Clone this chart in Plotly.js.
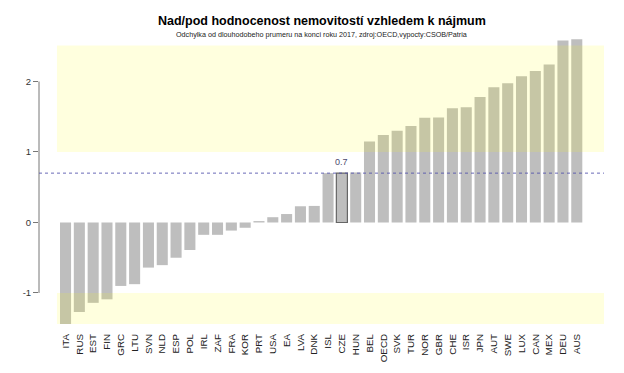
<!DOCTYPE html>
<html>
<head>
<meta charset="utf-8">
<script src="https://cdn.plot.ly/plotly-3.0.1.min.js"></script>
<style>html,body{margin:0;padding:0;background:#fff}#chart{width:624px;height:373px}</style>
</head>
<body>
<div id="chart"></div>
<script>
const countries = ["ITA","RUS","EST","FIN","GRC","LTU","SVN","NLD","ESP","POL","IRL","ZAF","FRA","KOR","PRT","USA","EA","LVA","DNK","ISL","CZE","HUN","BEL","OECD","SVK","TUR","NOR","GBR","CHE","ISR","JPN","AUT","SWE","LUX","CAN","MEX","DEU","AUS"];
const values = [-1.44,-1.27,-1.14,-1.09,-0.90,-0.875,-0.64,-0.605,-0.50,-0.39,-0.175,-0.175,-0.115,-0.075,0.02,0.075,0.12,0.23,0.235,0.70,0.70,0.71,1.15,1.24,1.30,1.37,1.485,1.49,1.62,1.635,1.78,1.92,1.975,2.075,2.15,2.24,2.58,2.60];
const highlight = "CZE";
const czeValue = 0.7;
const yTicks = [-1,0,1,2];
const upperBand = [1, 2.51];
const lowerBand = [-1, -1.44];

const idx = countries.map((c,i)=>i);
const lineColors = countries.map(c => c===highlight ? "#666666" : "rgba(0,0,0,0)");
const lineWidths = countries.map(c => c===highlight ? 1.2 : 0);

const trace = {
  type: "bar",
  x: idx,
  y: values,
  marker: {color: "#bebebe", line: {color: lineColors, width: lineWidths}},
  width: 0.8,
  hoverinfo: "x+y"
};

const ci = countries.indexOf(highlight);

const layout = {
  width: 624, height: 373,
  margin: {l: 39, r: 20, t: 38, b: 49},
  paper_bgcolor: "#ffffff",
  plot_bgcolor: "#ffffff",
  showlegend: false,
  font: {family: "Liberation Sans, Arial, sans-serif", color: "#333"},
  xaxis: {
    range: [-1.92, 38.97],
    tickmode: "array",
    tickvals: idx,
    ticktext: countries,
    tickangle: -90,
    ticks: "",
    ticklabelstandoff: 7,
    showgrid: false, zeroline: false, showline: false,
    tickfont: {size: 9.8, color: "#222"}
  },
  yaxis: {
    range: [-1.44, 2.617],
    tickmode: "array",
    tickvals: yTicks,
    ticktext: yTicks.map(String),
    ticks: "outside", ticklen: 5, tickcolor: "#777", tickwidth: 1,
    showgrid: false, zeroline: false, showline: false,
    tickfont: {size: 9.5, color: "#333"}
  },
  shapes: [
    {type: "line", xref: "paper", yref: "y", x0: 0, x1: 0, y0: -1, y1: 2, line: {color: "#777", width: 1}},
    {type: "rect", xref: "x", yref: "y", x0: -0.62, x1: 38.97, y0: upperBand[0], y1: upperBand[1], fillcolor: "rgba(255,255,0,0.13)", line: {width: 0}, layer: "above"},
    {type: "rect", xref: "x", yref: "y", x0: -0.62, x1: 38.97, y0: lowerBand[0], y1: lowerBand[1], fillcolor: "rgba(255,255,0,0.13)", line: {width: 0}, layer: "above"},
    {type: "line", xref: "paper", yref: "y", x0: 0, x1: 1, y0: czeValue, y1: czeValue, line: {color: "rgba(80,80,170,0.85)", width: 1, dash: "dot"}, layer: "above"}
  ],
  annotations: [
    {xref: "paper", yref: "paper", x: 0.5, y: 1, xanchor: "center", yanchor: "bottom",
     text: "<b>Nad/pod hodnocenost nemovitostí vzhledem k nájmum</b>", showarrow: false,
     font: {size: 12.5, color: "#000"}, yshift: 8},
    {xref: "paper", yref: "paper", x: 0.5, y: 1, xanchor: "center", yanchor: "bottom",
     text: "Odchylka od dlouhodobeho prumeru na konci roku 2017, zdroj:OECD,vypocty:CSOB/Patria", showarrow: false,
     font: {size: 7.2, color: "#222"}, yshift: -3},
    {xref: "x", yref: "y", x: ci, y: czeValue, xanchor: "center", yanchor: "bottom", yshift: 4,
     text: String(czeValue), showarrow: false, font: {size: 9, color: "#4a4a6e"}}
  ]
};

Plotly.newPlot("chart", [trace], layout, {staticPlot: true, displayModeBar: false});
</script>
</body>
</html>
